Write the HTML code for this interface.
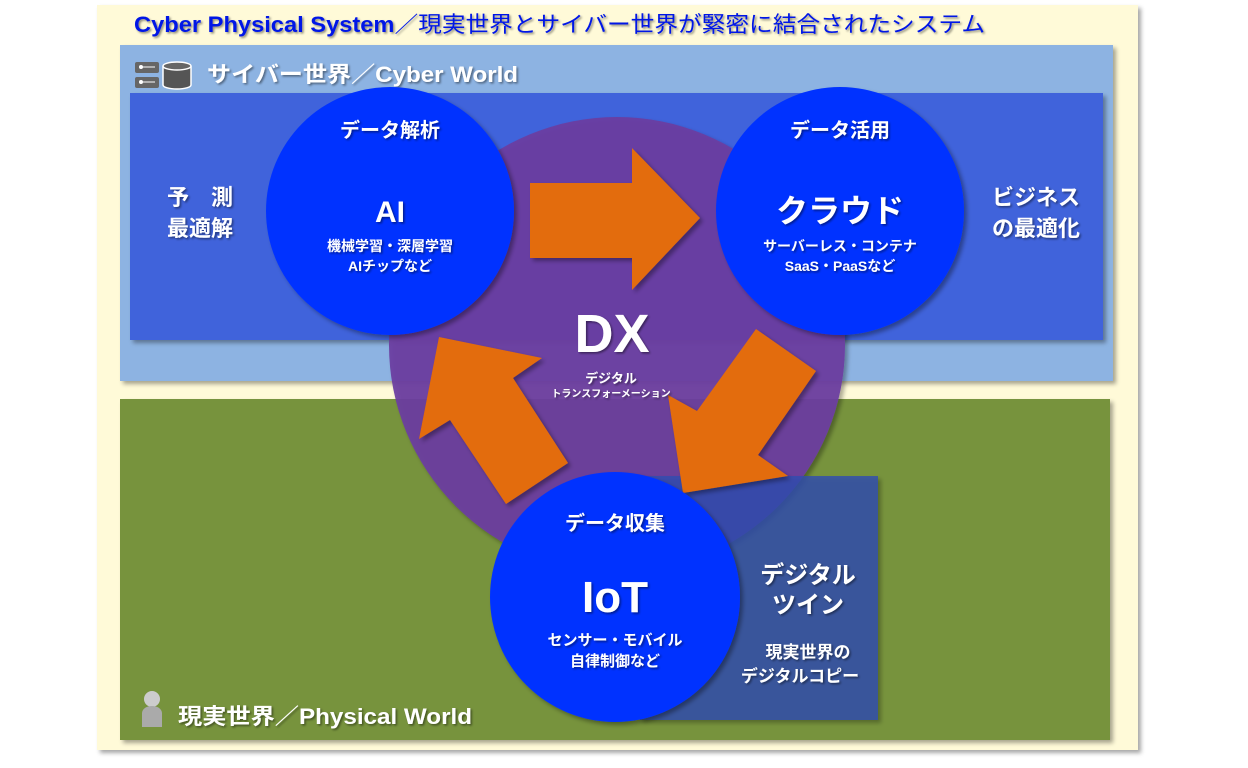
<!DOCTYPE html>
<html><head><meta charset="utf-8"><style>
html,body{margin:0;padding:0;background:#fff;}
svg{display:block;}
text{font-family:"Liberation Sans","Noto Sans CJK JP",sans-serif;font-weight:bold;}
</style></head><body>
<svg width="1248" height="768" viewBox="0 0 1248 768" xmlns="http://www.w3.org/2000/svg">
<defs>
<filter id="sh" x="-10%" y="-10%" width="120%" height="120%"><feDropShadow dx="3" dy="3" stdDeviation="2" flood-color="#000" flood-opacity="0.35"/></filter>
<filter id="ts" x="-5%" y="-20%" width="110%" height="140%"><feDropShadow dx="1.5" dy="1.5" stdDeviation="1" flood-color="#000" flood-opacity="0.45"/></filter>
</defs>
<rect x="97" y="5" width="1041" height="745" fill="#fffad8" filter="url(#sh)"/>
<text x="134" y="32" font-size="22" fill="#0019e6" filter="url(#ts)" textLength="851" lengthAdjust="spacingAndGlyphs">Cyber Physical System<tspan font-weight="normal">／現実世界とサイバー世界が緊密に結合されたシステム</tspan></text>
<rect x="120" y="45" width="993" height="336" fill="#8db3e2" filter="url(#sh)"/>
<rect x="120" y="399" width="990" height="341" fill="#77933c" filter="url(#sh)"/>
<rect x="130" y="93" width="973" height="247" fill="#4163db" filter="url(#sh)"/>
<!-- icons -->
<rect x="135" y="62" width="24" height="11" rx="2" fill="#666"/>
<rect x="135" y="77" width="24" height="11" rx="2" fill="#666"/>
<circle cx="141" cy="67" r="2" fill="#fff"/><line x1="141" y1="67" x2="155" y2="67" stroke="#fff" stroke-width="1"/>
<circle cx="141" cy="82" r="2" fill="#fff"/><line x1="141" y1="82" x2="155" y2="82" stroke="#fff" stroke-width="1"/>
<path d="M163 66 v19 a14 4 0 0 0 28 0 v-19" fill="#555" stroke="#fff" stroke-width="1.5"/>
<ellipse cx="177" cy="66" rx="14" ry="4" fill="#666" stroke="#fff" stroke-width="1.5"/>
<text x="207" y="82" font-size="22" fill="#fff" filter="url(#ts)" textLength="311" lengthAdjust="spacingAndGlyphs">サイバー世界／Cyber World</text>
<circle cx="152" cy="699" r="8" fill="#ccc"/>
<path d="M142 727 v-14 a10 7 0 0 1 20 0 v14 z" fill="#aaa"/>
<text x="178" y="724" font-size="22" fill="#fff" filter="url(#ts)" textLength="294" lengthAdjust="spacingAndGlyphs">現実世界／Physical World</text>
<!-- DX circle -->
<circle cx="617" cy="345" r="228" fill="#6a3da0" fill-opacity="0.93" filter="url(#sh)"/>
<rect x="640" y="476" width="238" height="244" fill="#2f4cb0" fill-opacity="0.8" filter="url(#sh)"/>
<!-- arrows -->
<polygon points="530,183 632,183 632,148 700,218 632,290 632,258 530,258" fill="#e36c09" filter="url(#sh)"/>
<polygon points="756,329 816,371 758,455 788,476 683,493 668,395 697,411" fill="#e36c09" filter="url(#sh)"/>
<polygon points="568,463 506,504 450,420 419,439 439,337 542,358 513,378" fill="#e36c09" filter="url(#sh)"/>
<!-- circles -->
<circle cx="390" cy="211" r="124" fill="#0033ff" filter="url(#sh)"/>
<circle cx="840" cy="211" r="124" fill="#0033ff" filter="url(#sh)"/>
<circle cx="615" cy="597" r="125" fill="#0033ff" filter="url(#sh)"/>
<g fill="#fff" text-anchor="middle" filter="url(#ts)">
<text x="390" y="137" font-size="20">データ解析</text>
<text x="390" y="222" font-size="30">AI</text>
<text x="390" y="251" font-size="14">機械学習・深層学習</text>
<text x="390" y="271" font-size="14">AIチップなど</text>
<text x="840" y="137" font-size="20">データ活用</text>
<text x="840" y="222" font-size="32">クラウド</text>
<text x="840" y="251" font-size="14">サーバーレス・コンテナ</text>
<text x="840" y="271" font-size="14">SaaS・PaaSなど</text>
<text x="615" y="530" font-size="20">データ収集</text>
<text x="615" y="612" font-size="44">IoT</text>
<text x="615" y="645" font-size="15">センサー・モバイル</text>
<text x="615" y="666" font-size="15">自律制御など</text>
<text x="612" y="352" font-size="54">DX</text>
<text x="611" y="383" font-size="13">デジタル</text>
<text x="611" y="397" font-size="10">トランスフォーメーション</text>
<text x="200" y="205" font-size="22">予　測</text>
<text x="200" y="236" font-size="22">最適解</text>
<text x="1036" y="205" font-size="22">ビジネス</text>
<text x="1036" y="236" font-size="22">の最適化</text>
<text x="808" y="583" font-size="24">デジタル</text>
<text x="808" y="613" font-size="24">ツイン</text>
<text x="808" y="658" font-size="17">現実世界の</text>
<text x="800" y="682" font-size="17">デジタルコピー</text>
</g>
</svg>
</body></html>
